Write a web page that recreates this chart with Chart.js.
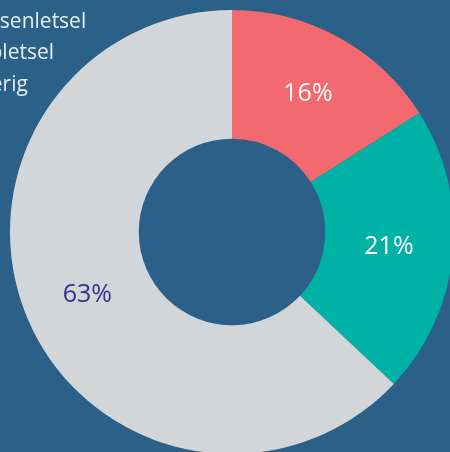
<!DOCTYPE html>
<html>
<head>
<meta charset="utf-8">
<script src="https://cdn.jsdelivr.net/npm/chart.js@4/dist/chart.umd.min.js"></script>
<style>
  html, body { margin: 0; padding: 0; width: 450px; height: 452px; overflow: hidden; background: #2b6088; }
  #wrap { position: absolute; left: 0; top: 0; width: 464px; height: 464px; }
</style>
</head>
<body>
<div id="wrap"><canvas id="c" width="464" height="464"></canvas></div>
<script>
const categories = ["Hersenletsel", "Kopletsel", "Overig"];
const values = [16, 21, 63];
const sliceColors = ["#f2696f", "#00b1a6", "#d3d6d8"];
const labelColors = ["#ffffff", "#ffffff", "#2e3192"];

const sliceLabels = {
  id: 'sliceLabels',
  afterDatasetsDraw(chart) {
    const ctx = chart.ctx;
    const meta = chart.getDatasetMeta(0);
    ctx.save();
    ctx.font = '25px "Open Sans"';
    ctx.textAlign = 'center';
    ctx.textBaseline = 'middle';
    meta.data.forEach((arc, i) => {
      const p = arc.tooltipPosition();
      ctx.fillStyle = labelColors[i];
      ctx.fillText(values[i] + '%', p.x, p.y);
    });
    ctx.restore();
  }
};

// legend drawn as text; its left part lies outside the visible page, as in the reference
const textLegend = {
  id: 'textLegend',
  afterDraw(chart) {
    const ctx = chart.ctx;
    ctx.save();
    ctx.font = '21px "Open Sans"';
    ctx.textAlign = 'left';
    ctx.textBaseline = 'middle';
    ctx.fillStyle = '#e8eef3';
    chart.data.labels.forEach((lab, i) => {
      ctx.fillText(lab, -36, 22 + i * 31.5);
    });
    ctx.restore();
  }
};

new Chart(document.getElementById('c'), {
  type: 'doughnut',
  data: {
    labels: categories,
    datasets: [{
      data: values,
      backgroundColor: sliceColors,
      borderWidth: 0,
      hoverOffset: 0
    }]
  },
  options: {
    responsive: false,
    animation: false,
    devicePixelRatio: 1,
    cutout: '42%',
    layout: { padding: 10 },
    plugins: {
      tooltip: { enabled: false },
      legend: { display: false }
    }
  },
  plugins: [sliceLabels, textLegend]
});
</script>
</body>
</html>
